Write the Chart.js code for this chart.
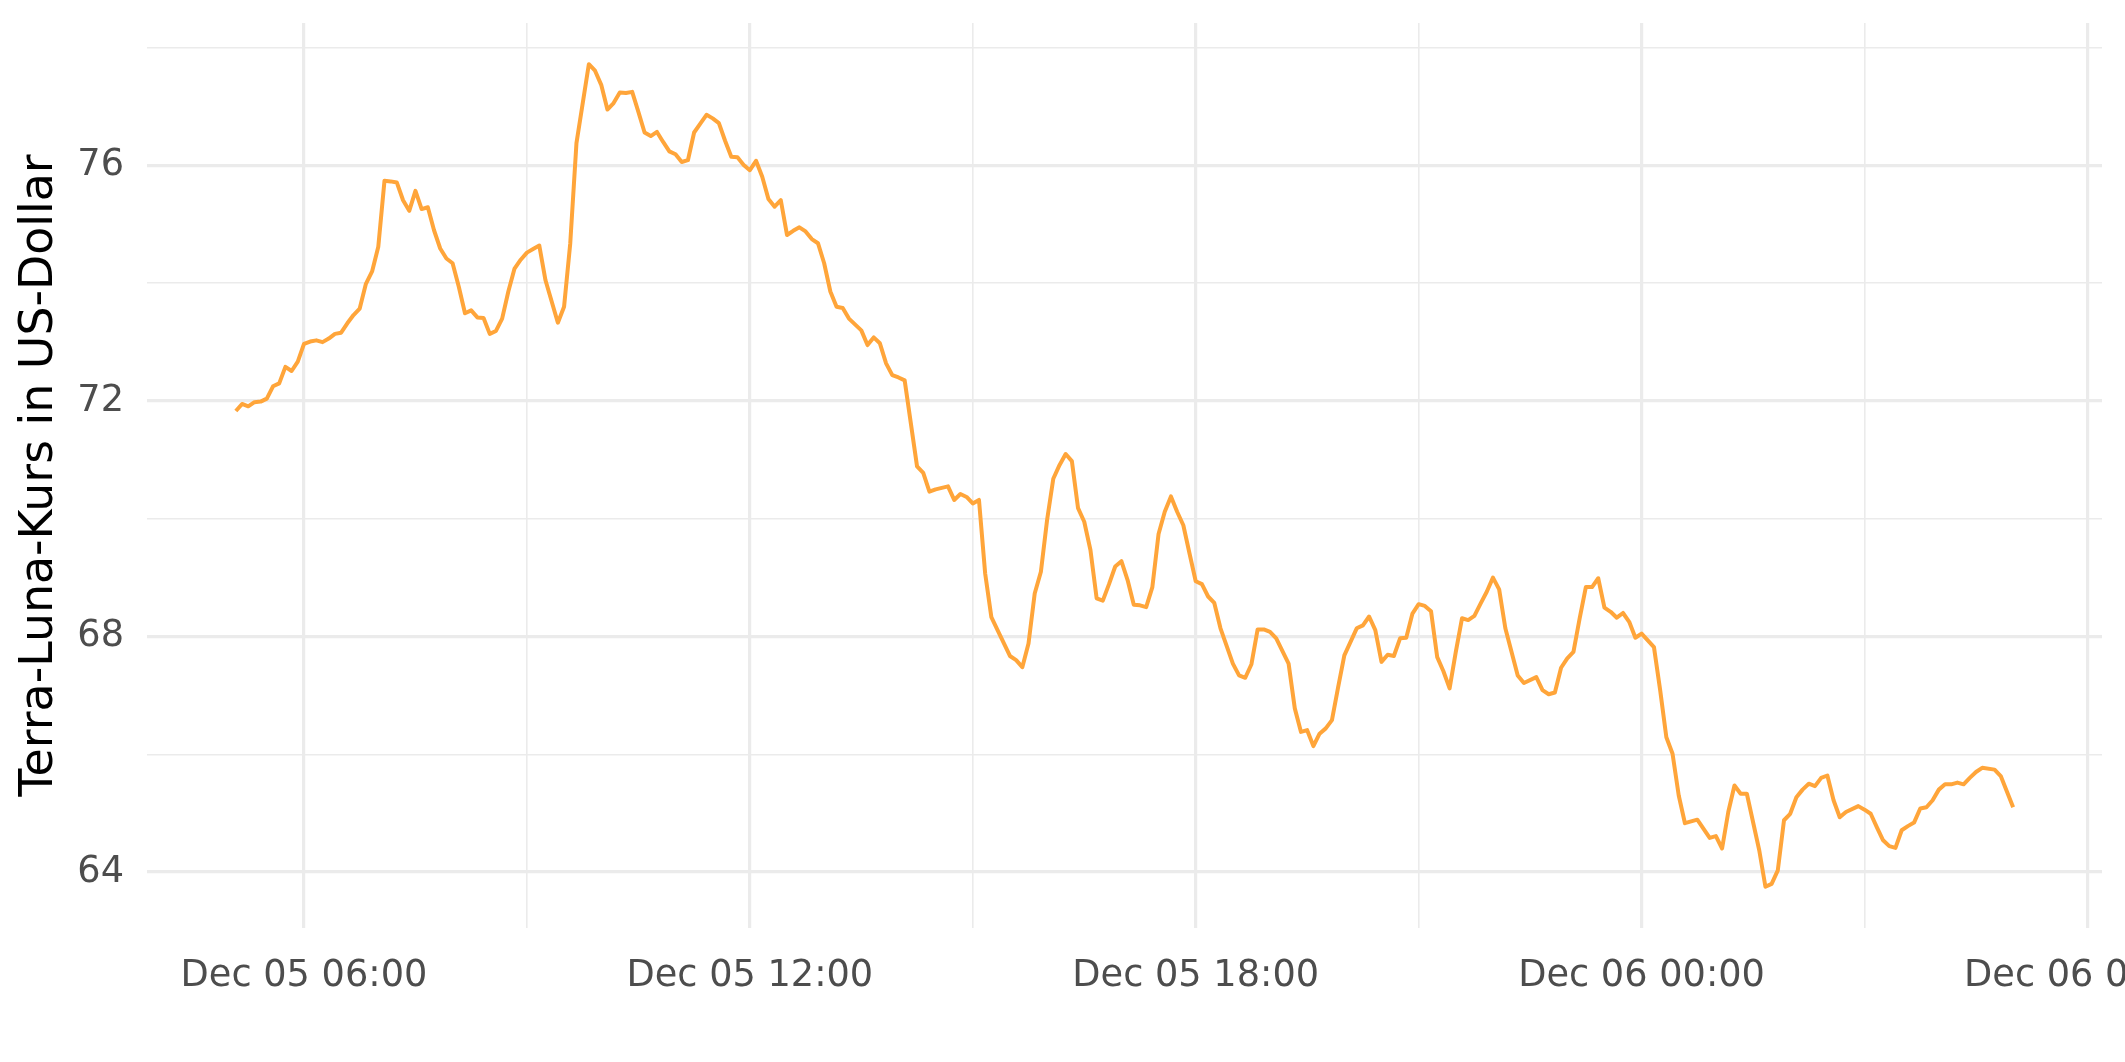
<!DOCTYPE html>
<html>
<head>
<meta charset="utf-8">
<script src="https://cdn.jsdelivr.net/npm/chart.js@4.4.1/dist/chart.umd.min.js"></script>
<style>
    html, body { margin: 0; padding: 0; background: #fff; }
    canvas { display: block; }
</style>
</head>
<body>
<canvas id="chart" width="2125" height="1062"></canvas>
<script>
// minutes since Dec 05 00:00, 5-minute data
var minutes = [
    305, 310, 315, 320, 325, 330, 335, 340, 345, 350, 355, 360, 365, 370, 375, 380, 385, 390, 395, 400,
    405, 410, 415, 420, 425, 430, 435, 440, 445, 450, 455, 460, 465, 470, 475, 480, 485, 490, 495, 500,
    505, 510, 515, 520, 525, 530, 535, 540, 545, 550, 555, 565, 570, 575, 580, 590, 595, 600, 605, 610,
    615, 620, 625, 630, 635, 640, 645, 650, 655, 660, 665, 670, 675, 680, 685, 690, 695, 700, 705, 710,
    715, 720, 725, 730, 735, 740, 745, 750, 755, 760, 765, 770, 775, 780, 785, 790, 795, 800, 810, 815,
    820, 825, 830, 835, 840, 845, 855, 860, 865, 870, 880, 885, 890, 895, 900, 905, 910, 915, 920, 930,
    935, 940, 945, 950, 955, 960, 965, 970, 975, 980, 985, 990, 995, 1000, 1005, 1010, 1015, 1020, 1025, 1030,
    1035, 1040, 1045, 1050, 1055, 1060, 1065, 1070, 1075, 1080, 1085, 1090, 1095, 1100, 1110, 1115, 1120, 1125, 1130, 1135,
    1140, 1145, 1155, 1160, 1165, 1170, 1175, 1180, 1185, 1190, 1195, 1200, 1210, 1215, 1220, 1225, 1230, 1235, 1240, 1245,
    1250, 1255, 1260, 1265, 1270, 1275, 1280, 1285, 1290, 1295, 1300, 1305, 1310, 1315, 1320, 1325, 1330, 1340, 1345, 1355,
    1360, 1365, 1370, 1375, 1380, 1385, 1390, 1395, 1400, 1405, 1410, 1415, 1420, 1425, 1430, 1435, 1440, 1450, 1455, 1460,
    1465, 1470, 1475, 1485, 1495, 1500, 1505, 1510, 1515, 1520, 1525, 1535, 1540, 1545, 1550, 1555, 1560, 1565, 1570, 1575,
    1580, 1585, 1590, 1595, 1600, 1605, 1615, 1620, 1625, 1630, 1635, 1640, 1645, 1650, 1655, 1660, 1665, 1670, 1675, 1680,
    1685, 1690, 1695, 1700, 1705, 1710, 1715, 1725, 1730, 1740
];
var price = [
    71.83, 71.95, 71.91, 71.98, 71.99, 72.04, 72.25, 72.30, 72.58, 72.51, 72.67, 72.97, 73.01, 73.03, 73.00, 73.06, 73.14, 73.16, 73.32, 73.46,
    73.57, 73.99, 74.20, 74.62, 75.74, 75.73, 75.71, 75.41, 75.23, 75.57, 75.26, 75.29, 74.90, 74.59, 74.42, 74.34, 73.94, 73.49, 73.54, 73.42,
    73.41, 73.14, 73.19, 73.40, 73.86, 74.25, 74.40, 74.52, 74.58, 74.64, 74.05, 73.33, 73.60, 74.68, 76.38, 77.72, 77.61, 77.37, 76.95, 77.06,
    77.24, 77.23, 77.25, 76.91, 76.56, 76.50, 76.57, 76.40, 76.24, 76.19, 76.06, 76.09, 76.56, 76.71, 76.86, 76.80, 76.72, 76.42, 76.15, 76.14,
    76.01, 75.92, 76.08, 75.81, 75.43, 75.30, 75.41, 74.82, 74.89, 74.95, 74.88, 74.75, 74.68, 74.34, 73.86, 73.60, 73.58, 73.40, 73.20, 72.95,
    73.08, 72.98, 72.64, 72.44, 72.40, 72.35, 70.89, 70.78, 70.46, 70.50, 70.55, 70.32, 70.42, 70.37, 70.26, 70.32, 69.07, 68.33, 68.11, 67.67,
    67.60, 67.48, 67.88, 68.73, 69.10, 69.98, 70.68, 70.91, 71.10, 70.98, 70.18, 69.95, 69.47, 68.65, 68.61, 68.89, 69.19, 69.28, 68.96, 68.54,
    68.53, 68.50, 68.84, 69.74, 70.12, 70.38, 70.12, 69.89, 69.41, 68.94, 68.89, 68.68, 68.57, 68.14, 67.54, 67.34, 67.30, 67.53, 68.12, 68.12,
    68.08, 67.97, 67.54, 66.78, 66.38, 66.41, 66.14, 66.35, 66.44, 66.58, 67.14, 67.68, 68.14, 68.19, 68.34, 68.11, 67.57, 67.69, 67.67, 67.97,
    67.98, 68.39, 68.55, 68.52, 68.43, 67.65, 67.41, 67.12, 67.74, 68.31, 68.28, 68.35, 68.56, 68.76, 69.00, 68.80, 68.14, 67.34, 67.21, 67.31,
    67.09, 67.02, 67.05, 67.47, 67.63, 67.74, 68.31, 68.84, 68.84, 68.99, 68.49, 68.42, 68.32, 68.40, 68.25, 67.98, 68.05, 67.82, 67.09, 66.29,
    66.01, 65.30, 64.83, 64.89, 64.58, 64.61, 64.40, 65.02, 65.47, 65.33, 65.33, 64.37, 63.75, 63.80, 64.03, 64.88, 64.99, 65.27, 65.40, 65.50,
    65.46, 65.60, 65.64, 65.22, 64.93, 65.02, 65.12, 65.06, 64.99, 64.76, 64.54, 64.44, 64.41, 64.71, 64.78, 64.84, 65.08, 65.10, 65.22, 65.40,
    65.49, 65.49, 65.52, 65.49, 65.60, 65.70, 65.77, 65.74, 65.63, 65.10
];
var xTicks = [360, 540, 720, 900, 1080, 1260, 1440, 1620, 1800];
var yTicks = [64, 66, 68, 70, 72, 74, 76, 78];
var yLabels = [64, 68, 72, 76];

function timeLabel(m) {
    var day = 5 + Math.floor(m / 1440);
    var hh = Math.floor((m % 1440) / 60);
    var mm = m % 60;
    return 'Dec ' + String(day).padStart(2, '0') + ' ' + String(hh).padStart(2, '0') + ':' + String(mm).padStart(2, '0');
}

// ggplot-like: 5% expansion around the data
var xPad = (minutes[minutes.length - 1] - minutes[0]) * 0.05;

var gridColor = '#EBEBEB';
var tickFont = { family: 'DejaVu Sans', size: 36.7 };

var ctx = document.getElementById('chart').getContext('2d');
new Chart(ctx, {
    type: 'line',
    data: {
        datasets: [{
            data: minutes.map(function(m, i) { return { x: m, y: price[i] }; }),
            borderColor: '#FFA53A',
            borderWidth: 4,
            borderJoinStyle: 'round',
            pointRadius: 0,
            tension: 0,
            fill: false
        }]
    },
    options: {
        responsive: false,
        animation: false,
        layout: { padding: { top: 23, right: 23, left: 0, bottom: 0 } },
        plugins: { legend: { display: false }, tooltip: { enabled: false } },
        scales: {
            x: {
                type: 'linear',
                min: minutes[0] - xPad,
                max: minutes[minutes.length - 1] + xPad,
                afterBuildTicks: function(scale) {
                    scale.ticks = xTicks.map(function(v) { return { value: v }; });
                },
                afterFit: function(scale) {
                    scale.height = 134;
                    scale.paddingLeft = 0;
                    scale.paddingRight = 0;
                },
                border: { display: false },
                grid: {
                    drawTicks: false,
                    color: gridColor,
                    lineWidth: function(c) { return c.tick && c.tick.value % 360 === 0 ? 3.2 : 1.6; }
                },
                ticks: {
                    autoSkip: false,
                    maxRotation: 0,
                    padding: 26,
                    color: '#4D4D4D',
                    font: tickFont,
                    callback: function(value) { return value % 360 === 0 ? timeLabel(value) : ''; }
                }
            },
            y: {
                min: 63.05,
                max: 78.42,
                afterBuildTicks: function(scale) {
                    scale.ticks = yTicks.map(function(v) { return { value: v }; });
                },
                afterFit: function(scale) {
                    scale.width = 147;
                    scale.paddingTop = 0;
                    scale.paddingBottom = 0;
                },
                border: { display: false },
                grid: {
                    drawTicks: false,
                    color: gridColor,
                    lineWidth: function(c) { return c.tick && yLabels.indexOf(c.tick.value) >= 0 ? 3.2 : 1.6; }
                },
                ticks: {
                    padding: 23,
                    color: '#4D4D4D',
                    font: tickFont,
                    callback: function(value) { return yLabels.indexOf(value) >= 0 ? String(value) : ''; }
                },
                title: {
                    display: true,
                    text: 'Terra-Luna-Kurs in US-Dollar',
                    color: '#000000',
                    font: { family: 'DejaVu Sans', size: 45.8 },
                    padding: { top: 13, bottom: 0 }
                }
            }
        }
    }
});
</script>
</body>
</html>
